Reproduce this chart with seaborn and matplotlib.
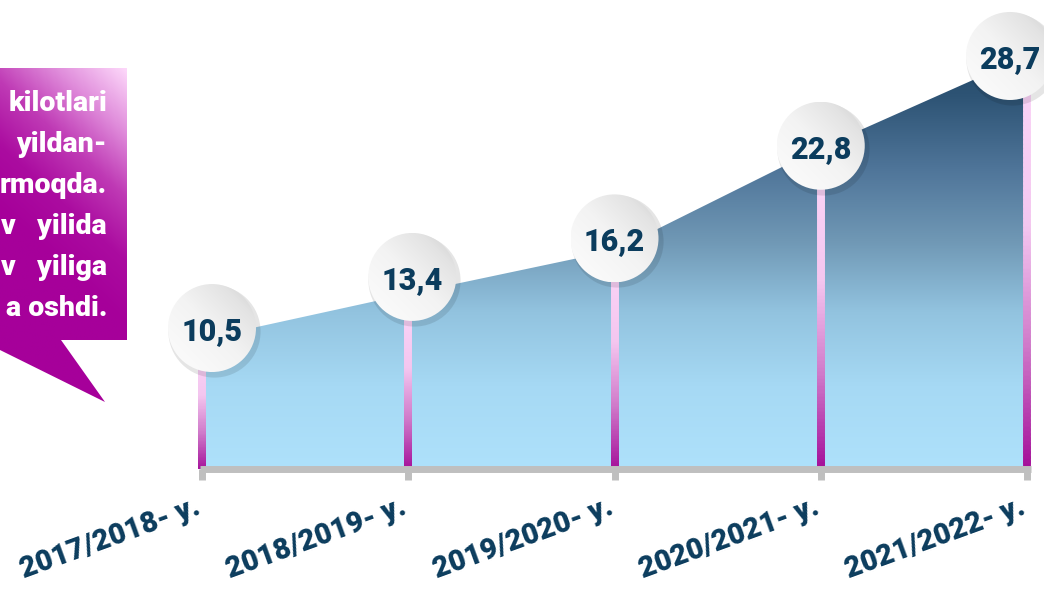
import numpy as np
import pandas as pd
import matplotlib
matplotlib.use("Agg")
import matplotlib.pyplot as plt
import seaborn as sns
from matplotlib.colors import LinearSegmentedColormap
from matplotlib.collections import LineCollection
from matplotlib.patches import PathPatch, Ellipse, Polygon

# data
years = ["2017/2018- y.", "2018/2019- y.", "2019/2020- y.", "2020/2021- y.", "2021/2022- y."]
values = [10.5, 13.4, 16.2, 22.8, 28.7]
value_labels = ["10,5", "13,4", "16,2", "22,8", "28,7"]
note_lines = ["kilotlari", "yildan-", "rmoqda.", "v   yilida", "v   yiliga", "a oshdi."]

# bubble nudges in pixels (label placement, not data)
bubble_dx = [10, 4, 0, 0, -17]
bubble_dy = [11, 17, 12, 2, 0]

sns.set_theme(style="white")
plt.rcParams["font.family"] = ["Roboto", "DejaVu Sans"]

NAVY = "#0b3c5d"
W, H = 1044, 589
fig = plt.figure(figsize=(W / 100, H / 100), dpi=100)

# layout in pixels: first category at 202px, last at 1027px, floor at 469px
x0_px, x4_px = 202, 1027
px_per_x = (x4_px - x0_px) / (len(years) - 1)
left_px, right_px, base_px = 150, 1044, 469
ax = fig.add_axes([left_px / W, (H - base_px) / H, (right_px - left_px) / W, base_px / H])
ax.patch.set_alpha(0)
ymin, ymax = 2.143, 32.3
px_per_y = base_px / (ymax - ymin)

df = pd.DataFrame({"year": years, "x": np.arange(len(years)), "value": values, "label": value_labels})
df["bx"] = df["x"] + np.array(bubble_dx) / px_per_x
df["by"] = df["value"] + np.array(bubble_dy) / px_per_y

# gradient area
poly = ax.fill_between(df["x"], df["value"], ymin, facecolor="none", edgecolor="none")
clip = PathPatch(poly.get_paths()[0], transform=ax.transData, facecolor="none", edgecolor="none")
ax.add_patch(clip)
area_cmap = LinearSegmentedColormap.from_list(
    "area", [(0, "#aee1fb"), (0.2, "#a6d9f4"), (0.38, "#92c3df"), (0.55, "#7098b5"),
             (0.72, "#50769a"), (0.9, "#2e5475"), (1, "#224868")])
grad = np.linspace(0, 1, 256).reshape(-1, 1)
im = ax.imshow(grad, cmap=area_cmap, origin="lower", aspect="auto",
               extent=(df["x"].min(), df["x"].max(), ymin, df["value"].max()), zorder=1)
im.set_clip_path(clip)

# gradient stems
stem_cmap = LinearSegmentedColormap.from_list(
    "stem", [(0, "#a30d98"), (0.3, "#cf78c9"), (0.6, "#f4c6ef"), (1, "#fbd6f8")])
for xi, v in zip(df["x"], df["value"]):
    ys = np.linspace(ymin, v, 90)
    segs = [[(xi, a), (xi, b)] for a, b in zip(ys[:-1], ys[1:])]
    lc = LineCollection(segs, colors=stem_cmap(np.linspace(0, 1, len(segs))),
                        linewidths=5.4, capstyle="projecting", zorder=2)
    ax.add_collection(lc)

# axis bar
ax.plot([df["x"].min() - 0.01, df["x"].max() + 0.02], [ymin, ymin], color="#bfbfbf",
        lw=5, solid_capstyle="butt", zorder=3, clip_on=False)

# bubbles: soft shadow + gradient disc + value
diam_px = 88
sns.scatterplot(data=df, x=df["bx"] + 2 / px_per_x, y=df["by"] - 3 / px_per_y, ax=ax,
                s=(diam_px * 0.72 + 3) ** 2, color="#000000", alpha=0.10, linewidth=0,
                zorder=4, legend=False)
disc_cmap = LinearSegmentedColormap.from_list(
    "disc", [(0, "#fdfdfd"), (0.5, "#f3f3f3"), (0.8, "#e3e3e3"), (1, "#cccccc")])
gu, gv = np.meshgrid(np.linspace(0, 1, 100), np.linspace(0, 1, 100))
disc = (gu + gv) / 2
w_d, h_d = diam_px / px_per_x, diam_px / px_per_y
for _, r in df.iterrows():
    e = Ellipse((r["bx"], r["by"]), w_d, h_d, transform=ax.transData, facecolor="none", edgecolor="none")
    ax.add_patch(e)
    dim = ax.imshow(disc, cmap=disc_cmap, origin="lower", aspect="auto", zorder=5,
                    extent=(r["bx"] - w_d / 2, r["bx"] + w_d / 2, r["by"] - h_d / 2, r["by"] + h_d / 2))
    dim.set_clip_path(e)
    ax.text(r["bx"], r["by"], r["label"], ha="center", va="center_baseline", fontsize=22,
            fontweight="black", color=NAVY, zorder=6)

ax.set_xlim((left_px - x0_px) / px_per_x, (right_px - x0_px) / px_per_x)
ax.set_ylim(ymin, ymax)
for s in ax.spines.values():
    s.set_visible(False)
ax.set_yticks([])
ax.set_xlabel("")
ax.set_ylabel("")
ax.set_xticks(df["x"], labels=df["year"])
ax.tick_params(axis="x", bottom=True, length=8, width=5, color="#bfbfbf", pad=24,
               labelsize=21, labelcolor=NAVY)
for lab in ax.get_xticklabels():
    lab.set(rotation=20, ha="right", va="baseline", rotation_mode="anchor", fontweight="black")

# callout box on the left
oax = fig.add_axes([0, 0, 1, 1], zorder=5)
shape = Polygon([(0, 68), (127, 68), (127, 340), (61, 340), (105, 402), (0, 350)],
                closed=True, facecolor="none", edgecolor="none")
oax.add_patch(shape)
call_cmap = LinearSegmentedColormap.from_list(
    "call", [(0, "#fdd8fa"), (0.25, "#e08ddb"), (0.5, "#bf3ab5"), (0.75, "#ab0ca0"), (1, "#a6009a")])
cx, cy = np.meshgrid(np.linspace(0, 1, 130), np.linspace(0, 1, 340))
ct = np.clip((1 - cx) * 0.45 + cy * 1.3, 0, 1)
cim = oax.imshow(ct, cmap=call_cmap, origin="upper", aspect="auto", extent=(0, 127, 402, 68), vmin=0, vmax=1)
cim.set_clip_path(shape)
baselines = [111, 152, 193, 234, 275, 316]
for line, yb in zip(note_lines, baselines):
    oax.text(107, yb, line, ha="right", va="baseline", color="white", fontsize=20.5, fontweight="black")
oax.set_xlim(0, W)
oax.set_ylim(H, 0)
oax.axis("off")

fig.savefig("out.png", dpi=100)
